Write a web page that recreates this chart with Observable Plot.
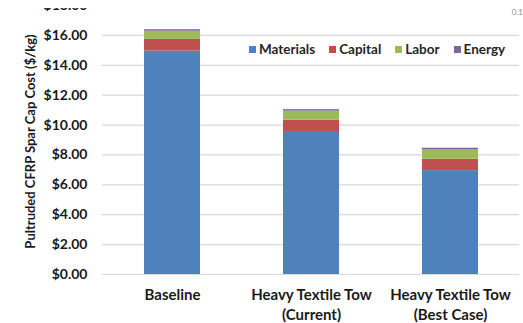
<!DOCTYPE html>
<html>
<head>
<meta charset="utf-8">
<script src="https://cdn.jsdelivr.net/npm/d3@7"></script>
<script src="https://cdn.jsdelivr.net/npm/@observablehq/plot@0.6"></script>
<style>
  html, body { margin: 0; padding: 0; background: #fff; }
  #wrap { position: relative; width: 523px; height: 323px; overflow: hidden; font-family: Lato, "Open Sans", sans-serif; }
  #wrap svg { display: block; margin-top: 8px; overflow: hidden; }
  .legend { position: absolute; left: 249px; top: 41px; display: flex; gap: 14px; font-weight: 700; font-size: 13.5px; color: #262626; }
  .legend span.item { display: flex; align-items: center; gap: 3px; }
  .legend span.sw { width: 7px; height: 7px; display: inline-block; }
  .note { position: absolute; right: 0px; top: 7px; font-size: 8px; color: #8c8c8c; }
</style>
</head>
<body>
<div id="wrap"></div>
<script>
// Cost breakdown per scenario ($/kg)
const categories = ["Baseline", "Heavy Textile Tow\n(Current)", "Heavy Textile Tow\n(Best Case)"];
const components = ["Materials", "Capital", "Labor", "Energy"];
const materials = [14.95, 9.57, 6.95];
const capital = [0.78, 0.76, 0.76];
const labor = [0.55, 0.60, 0.62];
const energy = [0.10, 0.10, 0.12];
const colors = ["#4f81bd", "#c0504d", "#9bbb59", "#8064a2"];
const yTicks = [0, 2, 4, 6, 8, 10, 12, 14, 16, 18];
const gridTicks = [0, 2, 4, 6, 8, 10, 12, 14, 16];

const series = [materials, capital, labor, energy];
const rows = [];
categories.forEach((c, i) => {
  components.forEach((k, j) => rows.push({category: c, component: k, value: series[j][i]}));
});

const plot = Plot.plot({
  width: 523,
  height: 315,
  marginLeft: 102,
  marginRight: 4,
  marginTop: 0,
  marginBottom: 49,
  style: {fontFamily: "Lato, 'Open Sans', sans-serif", color: "#1a1a1a", background: "transparent"},
  x: {domain: categories, paddingInner: 0.6, paddingOuter: 0.3},
  y: {domain: [0, 18], range: [266, -3]},
  color: {domain: components, range: colors},
  marks: [
    Plot.gridY(gridTicks, {stroke: "#d9d9d9", strokeOpacity: 1, strokeWidth: 1.2}),
    Plot.barY(rows, {x: "category", y: "value", fill: "component", order: components}),
    Plot.axisY(yTicks, {
      tickSize: 0, tickPadding: 15, tickFormat: d => "$" + d.toFixed(2),
      fontSize: 14, fontWeight: 700,
      label: null
    }),
    Plot.text(["Pultruded CFRP Spar Cap Cost ($/kg)"], {
      frameAnchor: "left", textAnchor: "middle", dx: -72, dy: 0, rotate: -90,
      fontSize: 13, fontWeight: 700, fill: "#1a1a1a"
    }),
    Plot.axisX({tickSize: 0, tickPadding: 11, fontSize: 15, fontWeight: 700, label: null, lineHeight: 1.33})
  ]
});

const wrap = document.getElementById("wrap");
wrap.appendChild(plot);

// Legend drawn inside the plot area
const legend = document.createElement("div");
legend.className = "legend";
components.forEach((k, j) => {
  const item = document.createElement("span");
  item.className = "item";
  const sw = document.createElement("span");
  sw.className = "sw";
  sw.style.background = colors[j];
  item.appendChild(sw);
  item.appendChild(document.createTextNode(k));
  legend.appendChild(item);
});
wrap.appendChild(legend);

const note = document.createElement("div");
note.className = "note";
note.textContent = "0.1";
wrap.appendChild(note);
</script>
</body>
</html>
